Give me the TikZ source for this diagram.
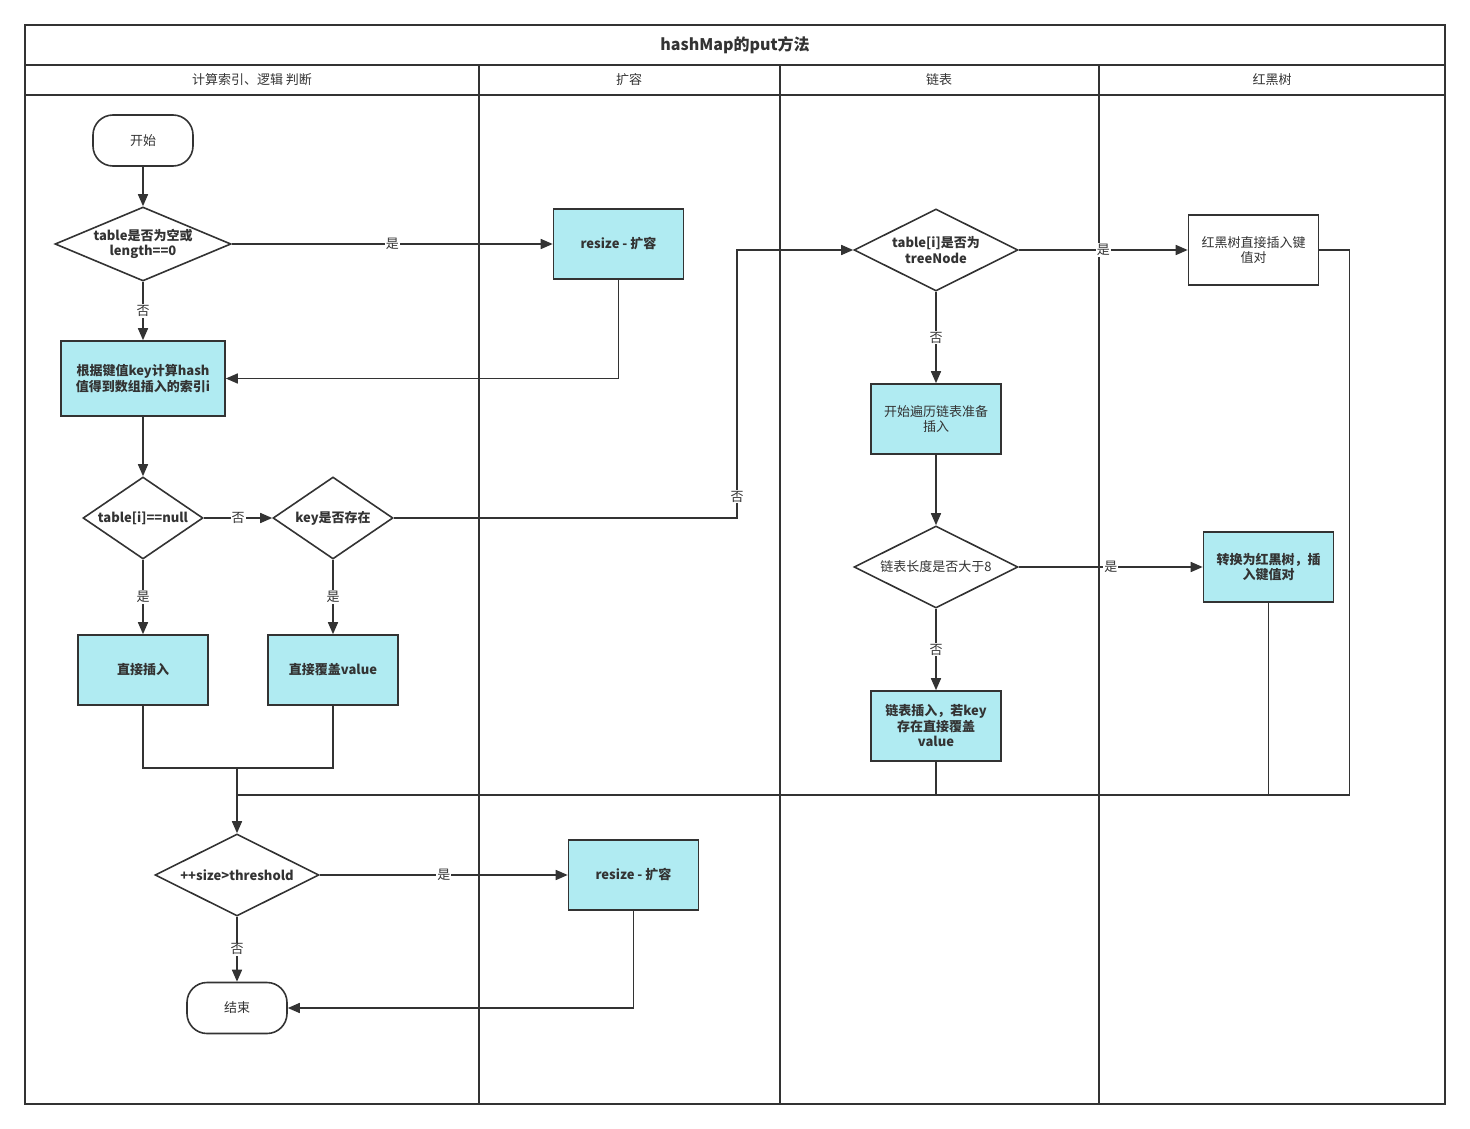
\documentclass[tikz,border=0pt]{standalone}
\usepackage{fontspec}
\setmainfont{Noto Sans CJK SC}
\usetikzlibrary{shapes.geometric,arrows.meta}
\definecolor{ln}{HTML}{333333}
\definecolor{cy}{HTML}{B0EBF2}
\begin{document}
\begin{tikzpicture}[x=1pt,y=-1pt,
  every node/.style={font=\fontsize{13}{15.5}\selectfont, text=ln},
  bf/.style={font=\bfseries\fontsize{13}{15.5}\selectfont},
  frame/.style={draw=ln, line width=1.6pt},
  line/.style={draw=ln, line width=1.6pt},
  arr/.style={line, -{Triangle[length=12pt,width=10pt]}},
  proc/.style={line, fill=cy, minimum width=130pt, minimum height=70pt, align=center, inner sep=2pt},
  plain/.style={line, fill=white, minimum width=130pt, minimum height=70pt, align=center, inner sep=2pt},
  term/.style={line, fill=white, rounded corners=20pt, minimum width=100pt, minimum height=51pt},
  dec/.style={line, fill=white, diamond, inner sep=0pt, align=center},
  lbl/.style={fill=white, inner sep=1pt},
  hdr/.style={font=\fontsize{13}{15.5}\selectfont}
]
\useasboundingbox (0,0) rectangle (1470,1129);

% pool and lanes
\draw[frame] (25,25) rectangle (1445,1104);
\draw[frame] (25,65) -- (1445,65);
\draw[frame] (25,95) -- (1445,95);
\foreach \x in {479,780,1099} \draw[frame] (\x,65) -- (\x,1104);
\node[font=\bfseries\fontsize{16}{18}\selectfont] (title) at (735,45) {hashMap的put方法};
\node[hdr] (h1) at (252,80) {计算索引、逻辑 判断};
\node[hdr] (h2) at (629,80) {扩容};
\node[hdr] (h3) at (939,80) {链表};
\node[hdr] (h4) at (1272,80) {红黑树};

% nodes
\node[term] (start) at (143,140.5) {开始};
\node[dec, bf, minimum width=176pt, minimum height=74pt, aspect=2.4] (d1) at (143,244) {table是否为空或\\length==0};
\node[proc, bf] (rs1) at (618.5,244) {resize - 扩容};
\node[proc, bf, minimum width=164pt, minimum height=75pt] (hash) at (143,378.5) {根据键值key计算hash\\值得到数组插入的索引i};
\node[dec, bf, minimum width=120pt, minimum height=82pt, aspect=1.46] (d2) at (143,518) {table[i]==null};
\node[dec, bf, minimum width=120pt, minimum height=82pt, aspect=1.46] (d3) at (333,518) {key是否存在};
\node[proc, bf] (ins) at (143,670) {直接插入};
\node[proc, bf] (ovr) at (333,670) {直接覆盖value};
\node[dec, bf, minimum width=164pt, minimum height=82pt, aspect=2] (d4) at (936,250) {table[i]是否为\\treeNode};
\node[plain] (rb1) at (1253.5,250) {红黑树直接插入键\\值对};
\node[proc] (trv) at (936,419) {开始遍历链表准备\\插入};
\node[dec, minimum width=164pt, minimum height=82pt, aspect=2] (d5) at (936,567) {链表长度是否大于8};
\node[proc, bf] (rb2) at (1268.5,567) {转换为红黑树，插\\入键值对};
\node[proc, bf] (lst) at (936,726) {链表插入，若key\\存在直接覆盖\\value};
\node[dec, bf, minimum width=164pt, minimum height=82pt, aspect=2] (d6) at (237,875) {++size>threshold};
\node[proc, bf] (rs2) at (633.5,875) {resize - 扩容};
\node[term] (end) at (237,1008) {结束};

% bend and junction points
\coordinate (k1) at (737,518);
\coordinate (k2) at (737,250);
\coordinate (m1) at (237,768);
\coordinate (m2) at (237,795);

% connectors
\draw[arr] (start) -- (d1);
\draw[arr] (d1) -- node[lbl]{是} (rs1);
\draw[arr] (d1) -- node[lbl]{否} (hash);
\draw[arr] (rs1.south) |- (hash.east);
\draw[arr] (hash) -- (d2);
\draw[arr] (d2) -- node[lbl]{否} (d3);
\draw[arr] (d2) -- node[lbl]{是} (ins);
\draw[arr] (d3) -- node[lbl]{是} (ovr);
\draw[arr] (d3.east) -- (k1) -- node[lbl, pos=0.08]{否} (k2) -- (d4.west);
\draw[arr] (d4) -- node[lbl]{是} (rb1);
\draw[arr] (d4) -- node[lbl]{否} (trv);
\draw[arr] (trv) -- (d5);
\draw[arr] (d5) -- node[lbl]{是} (rb2);
\draw[arr] (d5) -- node[lbl]{否} (lst);
\draw[line] (ins.south) |- (m1) -| (ovr.south);
\draw[arr] (m1) -- (d6.north);
\draw[line] (lst.south) |- (m2);
\draw[line] (rb2.south) |- (m2);
\draw[line] (rb1.east) -- ++(30,0) |- (m2);
\draw[arr] (d6) -- node[lbl]{是} (rs2);
\draw[arr] (d6) -- node[lbl]{否} (end);
\draw[arr] (rs2.south) |- (end.east);
\end{tikzpicture}
\end{document}
